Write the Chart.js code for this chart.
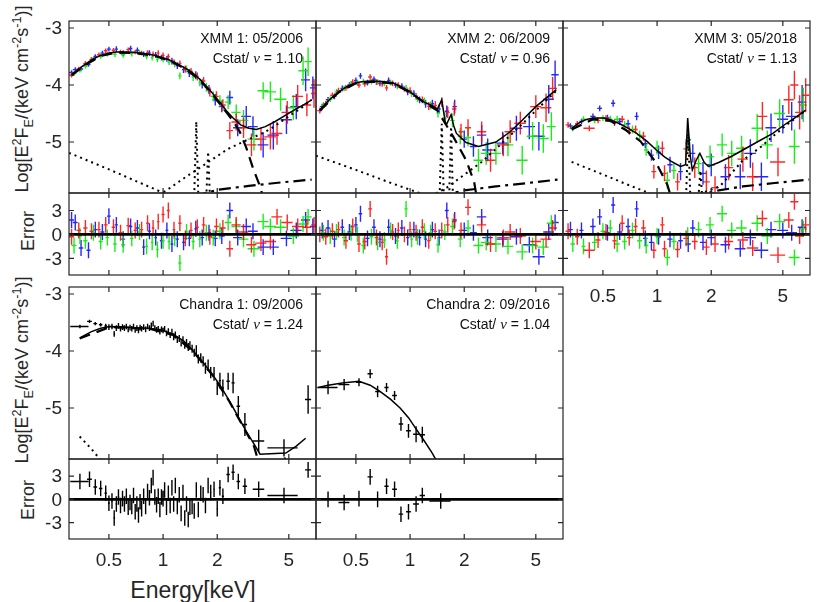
<!DOCTYPE html>
<html>
<head>
<meta charset="utf-8">
<script src="https://cdn.jsdelivr.net/npm/chart.js@4"></script>
<style>
  body { margin: 0; background: #fff; }
  #wrap { position: relative; width: 831px; height: 602px; font-family: "Liberation Sans", Arial, sans-serif; color: #262626; }
  canvas { position: absolute; }
  .yt { position: absolute; transform: translate(-50%, -50%) rotate(-90deg); white-space: nowrap; font-size: 18px; line-height: 1; }
  .yt sup, .yt sub { font-size: 70%; line-height: 0; }
  .xt { position: absolute; transform: translate(-50%, -50%); white-space: nowrap; font-size: 23px; }
</style>
</head>
<body>
<div id="wrap">
  <div class="yt" style="left:22px;top:99px">Log[E<sup>2</sup>F<sub>E</sub>/(keV cm<sup>-2</sup>s<sup>-1</sup>)]</div>
  <div class="yt" style="left:28px;top:231px">Error</div>
  <div class="yt" style="left:22px;top:370px">Log[E<sup>2</sup>F<sub>E</sub>/(keV cm<sup>-2</sup>s<sup>-1</sup>)]</div>
  <div class="yt" style="left:28px;top:500px">Error</div>
  <div class="xt" style="left:193px;top:590px">Energy[keV]</div>
</div>
<script>
/************************ tick values *********************************/
const energyTicks = [0.5, 1, 2, 5];
const specTicks = [-3, -4, -5];
const resTicks = [-3, 0, 3];

const panelTitles = ["XMM 1: 05/2006", "XMM 2: 06/2009", "XMM 3: 05/2018", "Chandra 1: 09/2006", "Chandra 2: 09/2016"];
const panelCstat = ["1.10", "0.96", "1.13", "1.24", "1.04"];

/************************ data points: [E, dE, logE2F, dlog, residual] *********************************/
const xmm1Red = [
  [0.31,0.01,-3.83,0.04,-0.3],[0.34,0.01,-3.72,0.04,0.5],[0.37,0.01,-3.62,0.04,0.8],[0.40,0.01,-3.55,0.04,0.4],
  [0.44,0.01,-3.47,0.04,0.6],[0.48,0.012,-3.40,0.04,1.2],[0.53,0.012,-3.39,0.04,0.9],[0.58,0.015,-3.42,0.04,0.2],
  [0.64,0.015,-3.38,0.04,1.1],[0.70,0.015,-3.42,0.04,0.5],[0.76,0.015,-3.44,0.04,0.6],[0.82,0.015,-3.43,0.04,1.4],
  [0.88,0.015,-3.46,0.05,0.8],[0.94,0.015,-3.44,0.05,1.6],[1.00,0.02,-3.48,0.05,2.5],[1.07,0.02,-3.50,0.05,3.0],
  [1.15,0.02,-3.60,0.05,0.6],[1.24,0.025,-3.62,0.05,1.4],[1.33,0.025,-3.72,0.06,-0.5],[1.43,0.03,-3.76,0.06,0.5],
  [1.55,0.03,-3.85,0.07,0.9],[1.68,0.04,-3.93,0.07,1.2],[1.82,0.05,-4.12,0.08,-0.3],[1.98,0.06,-4.20,0.09,1.0],
  [2.15,0.08,-4.35,0.10,0.8],[2.35,0.1,-4.80,0.15,-1.8],[2.55,0.15,-4.65,0.15,1.2],[2.8,0.18,-4.75,0.18,0.3],
  [3.1,0.2,-5.05,0.2,-1.3],[3.5,0.25,-4.95,0.2,-1.1],[3.95,0.3,-4.91,0.22,-0.9],[4.3,0.3,-4.85,0.2,2.2],
  [4.9,0.35,-4.48,0.2,1.5],[5.6,0.4,-4.20,0.2,1.0],[6.3,0.35,-4.35,0.2,0.9],[6.9,0.25,-4.15,0.25,1.2]
];
const xmm1Blue = [
  [0.31,0.01,-3.78,0.04,1.8],[0.325,0.01,-3.73,0.04,1.5],[0.35,0.01,-3.72,0.04,-1.7],[0.385,0.01,-3.64,0.04,-2.0],
  [0.42,0.01,-3.50,0.04,0.6],[0.46,0.012,-3.44,0.04,0.3],[0.50,0.012,-3.37,0.04,2.3],[0.55,0.012,-3.37,0.05,1.2],
  [0.60,0.015,-3.44,0.05,-0.6],[0.66,0.015,-3.36,0.05,1.0],[0.72,0.015,-3.39,0.05,0.8],[0.78,0.015,-3.46,0.05,-1.6],
  [0.84,0.015,-3.44,0.05,0.4],[0.91,0.015,-3.47,0.05,-0.4],[0.98,0.02,-3.52,0.05,-0.8],[1.05,0.02,-3.54,0.05,0.5],
  [1.12,0.02,-3.58,0.06,-1.2],[1.20,0.025,-3.66,0.06,-0.6],[1.30,0.025,-3.73,0.06,-1.0],[1.40,0.03,-3.79,0.07,-0.5],
  [1.52,0.03,-3.83,0.07,0.7],[1.65,0.04,-3.98,0.08,-0.4],[1.80,0.05,-4.08,0.08,0.2],[1.95,0.06,-4.26,0.1,-0.5],
  [2.12,0.08,-4.38,0.1,-0.2],[2.35,0.1,-4.22,0.12,3.0],[2.6,0.15,-4.75,0.15,-0.4],[2.9,0.18,-4.55,0.18,1.0],
  [3.16,0.2,-4.73,0.18,0.4],[3.6,0.25,-5.05,0.22,-1.6],[4.1,0.3,-4.88,0.25,-1.6],[4.85,0.35,-4.61,0.25,-0.5],
  [5.5,0.4,-4.38,0.22,0.5],[6.2,0.35,-3.91,0.2,1.8],[6.8,0.25,-4.05,0.2,1.0]
];
const xmm1Green = [
  [0.32,0.01,-3.80,0.04,-1.4],[0.345,0.01,-3.74,0.04,-0.2],[0.37,0.01,-3.67,0.04,-0.8],[0.41,0.01,-3.55,0.04,0.2],
  [0.45,0.012,-3.50,0.04,-0.9],[0.49,0.012,-3.46,0.04,-0.4],[0.54,0.012,-3.46,0.05,-1.2],[0.60,0.015,-3.47,0.05,-1.3],
  [0.67,0.015,-3.45,0.05,-0.5],[0.74,0.015,-3.43,0.05,0.3],[0.81,0.015,-3.50,0.05,-1.5],[0.87,0.015,-3.52,0.05,-1.0],
  [0.93,0.015,-3.55,0.05,-1.9],[1.00,0.02,-3.55,0.05,-0.8],[1.08,0.02,-3.60,0.05,-0.9],[1.16,0.02,-3.63,0.06,-0.5],
  [1.24,0.025,-3.84,0.06,-3.6],[1.35,0.025,-3.72,0.06,0.3],[1.47,0.03,-3.86,0.07,-0.9],[1.6,0.03,-3.95,0.07,-0.6],
  [1.74,0.04,-4.04,0.08,0.2],[1.90,0.06,-4.20,0.09,-0.4],[2.07,0.08,-4.28,0.1,0.4],[2.3,0.1,-4.30,0.12,1.5],
  [2.55,0.15,-4.48,0.14,1.0],[2.8,0.18,-4.62,0.18,-0.6],[3.2,0.25,-4.95,0.2,-1.8],[3.6,0.25,-4.10,0.15,1.6],
  [3.95,0.3,-4.12,0.18,1.0],[4.5,0.35,-4.25,0.2,0.9],[5.3,0.4,-4.40,0.22,-0.2],[6.0,0.35,-3.75,0.25,1.3],
  [6.4,0.3,-3.59,0.25,2.2]
];

const xmm2Red = [
  [0.315,0.01,-4.45,0.05,0.0],[0.34,0.01,-4.33,0.05,-0.3],[0.37,0.01,-4.18,0.05,0.4],[0.40,0.01,-4.10,0.05,0.6],
  [0.44,0.012,-4.05,0.05,-0.8],[0.48,0.012,-3.95,0.05,1.0],[0.52,0.012,-4.00,0.05,-1.2],[0.56,0.015,-3.98,0.05,-0.9],
  [0.60,0.015,-3.86,0.05,3.2],[0.65,0.015,-3.95,0.05,-0.4],[0.70,0.015,-3.98,0.05,-1.0],[0.74,0.015,-4.05,0.05,-2.8],
  [0.80,0.015,-3.97,0.05,0.3],[0.86,0.015,-4.00,0.05,0.5],[0.93,0.02,-4.07,0.05,0.0],[1.00,0.02,-4.10,0.06,0.6],
  [1.08,0.02,-4.20,0.06,0.2],[1.17,0.025,-4.26,0.06,0.9],[1.27,0.025,-4.37,0.07,-0.8],[1.38,0.03,-4.36,0.08,0.4],
  [1.5,0.03,-4.30,0.08,0.5],[1.62,0.04,-4.48,0.1,1.2],[1.76,0.05,-4.42,0.12,1.6],[1.92,0.06,-4.82,0.14,0.5],
  [2.1,0.08,-4.75,0.15,3.4],[2.5,0.15,-4.82,0.18,1.2],[2.8,0.18,-5.32,0.2,-1.2],[3.3,0.25,-5.05,0.2,-0.4],
  [3.6,0.25,-4.82,0.2,0.3],[4.1,0.3,-4.67,0.2,-0.2],[5.0,0.35,-4.38,0.2,-0.9],[5.7,0.4,-4.40,0.25,-0.6],
  [6.2,0.35,-4.06,0.2,0.8]
];
const xmm2Blue = [
  [0.325,0.01,-4.38,0.05,0.5],[0.35,0.01,-4.26,0.05,0.8],[0.38,0.01,-4.20,0.05,-0.6],[0.42,0.01,-4.06,0.05,0.9],
  [0.46,0.012,-4.00,0.05,0.3],[0.50,0.012,-3.92,0.05,1.2],[0.53,0.012,-3.84,0.05,2.6],[0.58,0.015,-3.96,0.05,-0.5],
  [0.63,0.015,-3.90,0.05,0.9],[0.68,0.015,-3.97,0.05,-0.6],[0.76,0.015,-3.92,0.05,0.9],[0.83,0.015,-4.00,0.05,-0.2],
  [0.90,0.02,-4.02,0.05,0.8],[0.97,0.02,-4.12,0.06,-0.4],[1.05,0.02,-4.15,0.06,0.6],[1.13,0.025,-4.26,0.06,-0.4],
  [1.22,0.025,-4.33,0.07,-0.6],[1.33,0.03,-4.33,0.07,0.6],[1.45,0.03,-4.42,0.08,-0.4],[1.60,0.04,-4.46,0.1,3.0],
  [1.77,0.05,-4.38,0.12,1.8],[2.0,0.07,-4.95,0.15,0.5],[2.25,0.1,-5.08,0.18,0.2],[2.5,0.15,-4.88,0.18,2.2],
  [2.7,0.18,-5.14,0.2,-0.4],[3.27,0.25,-5.02,0.2,-0.6],[3.9,0.3,-4.76,0.22,-0.3],[4.6,0.35,-4.73,0.22,-1.3],
  [5.2,0.4,-4.90,0.25,-2.8],[5.9,0.4,-4.25,0.25,0.3],[6.4,0.3,-3.82,0.25,1.5]
];
const xmm2Green = [
  [0.33,0.01,-4.35,0.05,0.2],[0.36,0.01,-4.25,0.05,-0.2],[0.39,0.01,-4.12,0.05,0.3],[0.43,0.012,-4.06,0.05,-0.4],
  [0.47,0.012,-3.98,0.05,0.2],[0.51,0.012,-3.96,0.05,0.0],[0.55,0.015,-3.94,0.05,-1.4],[0.61,0.015,-3.94,0.05,-0.3],
  [0.66,0.015,-3.95,0.05,-1.0],[0.72,0.015,-3.97,0.05,-0.7],[0.78,0.015,-3.96,0.05,0.5],[0.85,0.015,-4.02,0.05,-0.8],
  [0.95,0.02,-4.05,0.05,3.2],[1.02,0.02,-4.15,0.06,-0.6],[1.10,0.02,-4.24,0.06,-0.3],[1.20,0.025,-4.28,0.06,0.4],
  [1.30,0.03,-4.36,0.07,0.2],[1.43,0.03,-4.49,0.08,-1.3],[1.56,0.04,-4.58,0.1,0.3],[1.72,0.05,-4.62,0.12,1.0],
  [1.9,0.06,-4.90,0.14,-0.6],[2.1,0.08,-4.92,0.16,0.8],[2.4,0.15,-5.32,0.2,-1.4],[2.65,0.18,-5.20,0.2,-1.0],
  [3.0,0.2,-5.20,0.2,-1.2],[3.5,0.25,-5.05,0.2,-1.5],[4.2,0.3,-5.32,0.25,-2.2],[4.8,0.35,-4.90,0.25,-1.4],
  [5.5,0.4,-4.94,0.25,-1.6],[6.1,0.35,-4.73,0.25,1.4]
];

const xmm3Red = [
  [0.32,0.01,-4.70,0.05,0.4],[0.36,0.01,-4.68,0.05,-0.3],[0.42,0.03,-4.76,0.05,-2.0],[0.47,0.015,-4.62,0.05,-0.7],
  [0.52,0.015,-4.58,0.05,0.3],[0.58,0.015,-4.66,0.06,-0.8],[0.64,0.02,-4.60,0.06,1.4],[0.70,0.02,-4.80,0.07,-0.4],
  [0.76,0.02,-4.78,0.07,1.0],[0.84,0.025,-4.90,0.08,0.8],[0.96,0.03,-5.52,0.12,-2.0],[1.07,0.03,-5.11,0.12,1.2],
  [1.10,0.03,-5.55,0.14,-1.8],[1.30,0.04,-5.70,0.15,-1.9],[1.45,0.05,-5.12,0.15,-0.5],[1.62,0.06,-5.45,0.18,-0.9],
  [1.88,0.08,-5.70,0.2,-1.6],[2.1,0.1,-5.80,0.2,-1.2],[2.5,0.15,-5.45,0.22,-0.9],[3.0,0.2,-5.30,0.22,-0.7],
  [3.4,0.25,-5.61,0.25,-1.7],[3.85,0.25,-4.55,0.25,2.0],[4.7,0.45,-5.35,0.25,-2.6],[5.4,0.35,-4.26,0.25,1.8],
  [5.8,0.3,-4.00,0.25,4.1],[6.2,0.35,-4.48,0.3,-0.2],[6.7,0.3,-4.18,0.3,1.2]
];
const xmm3Blue = [
  [0.33,0.01,-4.72,0.05,0.6],[0.38,0.01,-4.64,0.05,0.5],[0.44,0.015,-4.55,0.05,1.0],[0.48,0.015,-4.41,0.05,2.2],
  [0.53,0.015,-4.58,0.06,0.2],[0.57,0.015,-4.32,0.06,3.7],[0.62,0.02,-4.64,0.06,0.3],[0.69,0.02,-4.68,0.07,1.0],
  [0.77,0.02,-4.55,0.07,3.2],[0.86,0.025,-5.03,0.08,-0.5],[0.93,0.03,-5.23,0.1,-1.0],[1.02,0.03,-5.18,0.12,-0.3],
  [1.18,0.04,-5.40,0.14,-0.6],[1.35,0.04,-5.52,0.15,-0.8],[1.49,0.05,-4.96,0.15,-1.2],[1.58,0.05,-5.20,0.16,0.8],
  [1.80,0.07,-5.55,0.2,-1.0],[2.0,0.1,-5.40,0.2,-0.4],[2.4,0.15,-5.61,0.22,-1.3],[2.9,0.2,-5.61,0.22,-1.8],
  [3.3,0.25,-5.20,0.25,-0.4],[3.8,0.35,-5.61,0.25,-2.0],[4.3,0.3,-4.75,0.25,0.6],[5.0,0.35,-4.60,0.25,0.5],
  [5.6,0.4,-4.55,0.25,0.2],[6.4,0.35,-4.30,0.3,0.9]
];
const xmm3Green = [
  [0.34,0.01,-4.76,0.05,-1.2],[0.39,0.01,-4.60,0.05,-1.5],[0.45,0.015,-4.62,0.05,-1.0],[0.50,0.015,-4.58,0.05,0.4],
  [0.55,0.015,-4.60,0.06,0.8],[0.60,0.02,-4.60,0.06,-1.2],[0.66,0.02,-4.70,0.07,-0.9],[0.73,0.02,-4.78,0.07,0.5],
  [0.80,0.025,-4.88,0.08,-0.8],[0.87,0.025,-5.14,0.1,-1.4],[1.0,0.03,-5.10,0.12,-0.2],[1.14,0.04,-5.67,0.15,-2.9],
  [1.24,0.04,-5.50,0.15,-0.9],[1.48,0.05,-5.02,0.15,-0.1],[1.7,0.07,-5.38,0.18,0.6],[1.97,0.1,-5.26,0.2,1.2],
  [2.3,0.15,-5.05,0.2,2.6],[2.6,0.15,-5.20,0.22,0.5],[2.95,0.2,-5.11,0.22,0.8],[3.6,0.25,-4.76,0.25,1.4],
  [4.1,0.3,-5.05,0.25,-0.2],[4.8,0.35,-4.50,0.25,1.6],[5.8,0.4,-5.08,0.3,-2.9],[6.5,0.3,-4.35,0.3,0.7]
];

const chandra1Data = [
  [0.345,0.04,-3.57,0.03,2.3],[0.39,0.012,-3.48,0.03,2.6],[0.42,0.01,-3.52,0.03,1.6],[0.45,0.01,-3.54,0.03,1.4],
  [0.48,0.008,-3.56,0.04,0.8],[0.50,0.006,-3.58,0.05,-0.5],[0.52,0.006,-3.57,0.05,-0.2],[0.535,0.006,-3.70,0.05,-2.4],
  [0.55,0.006,-3.60,0.05,-0.6],[0.565,0.006,-3.56,0.05,0.3],[0.58,0.006,-3.61,0.05,-0.8],[0.595,0.006,-3.58,0.05,0.1],
  [0.61,0.006,-3.60,0.05,-0.6],[0.625,0.006,-3.57,0.05,0.4],[0.64,0.006,-3.62,0.05,-1.0],[0.655,0.006,-3.59,0.05,-0.4],
  [0.67,0.006,-3.61,0.05,-0.9],[0.685,0.006,-3.57,0.05,0.5],[0.70,0.006,-3.63,0.05,-1.6],[0.715,0.006,-3.60,0.05,-0.6],
  [0.73,0.006,-3.64,0.05,-2.0],[0.745,0.006,-3.59,0.05,-0.3],[0.76,0.006,-3.61,0.05,-1.2],[0.78,0.006,-3.58,0.05,0.4],
  [0.80,0.006,-3.62,0.05,-0.9],[0.82,0.006,-3.57,0.05,1.0],[0.84,0.006,-3.60,0.05,0.2],[0.86,0.006,-3.55,0.05,1.8],
  [0.88,0.006,-3.52,0.05,2.8],[0.90,0.006,-3.60,0.05,0.3],[0.92,0.006,-3.63,0.05,-0.7],[0.94,0.006,-3.61,0.05,0.4],
  [0.96,0.006,-3.66,0.05,-1.3],[0.98,0.006,-3.62,0.05,0.3],[1.00,0.007,-3.64,0.05,0.1],[1.02,0.007,-3.61,0.05,1.2],
  [1.045,0.007,-3.69,0.05,-1.0],[1.07,0.007,-3.65,0.05,0.8],[1.095,0.007,-3.72,0.05,-0.8],[1.12,0.007,-3.67,0.06,1.5],
  [1.145,0.007,-3.75,0.06,-0.6],[1.17,0.008,-3.72,0.06,1.8],[1.20,0.008,-3.80,0.06,-0.9],[1.23,0.008,-3.78,0.06,0.6],
  [1.26,0.008,-3.86,0.06,-1.8],[1.29,0.008,-3.80,0.06,0.9],[1.32,0.009,-3.90,0.06,-2.4],[1.35,0.009,-3.86,0.07,-0.6],
  [1.38,0.009,-3.93,0.07,-2.6],[1.41,0.01,-3.90,0.07,-1.0],[1.45,0.01,-3.96,0.07,-0.9],[1.49,0.01,-4.03,0.07,-1.5],
  [1.53,0.012,-3.98,0.08,1.2],[1.57,0.012,-4.14,0.08,-1.3],[1.62,0.012,-4.12,0.08,0.8],[1.67,0.015,-4.18,0.09,0.6],
  [1.72,0.015,-4.30,0.1,-0.8],[1.78,0.015,-4.25,0.1,1.8],[1.84,0.02,-4.38,0.1,0.9],[1.92,0.02,-4.40,0.12,1.3],
  [2.00,0.02,-4.65,0.12,-1.2],[2.07,0.03,-4.52,0.14,1.5],[2.15,0.03,-4.65,0.15,0.4],[2.30,0.05,-4.53,0.15,3.2],
  [2.45,0.05,-4.56,0.18,3.5],[2.62,0.06,-4.97,0.18,2.3],[2.85,0.08,-5.29,0.2,1.7],[3.4,0.25,-5.58,0.2,1.3],
  [4.7,0.9,-5.70,0.15,0.5],[6.4,0.25,-4.85,0.25,3.8]
];
const chandra2Data = [
  [0.35,0.045,-4.64,0.12,0.0],[0.43,0.03,-4.59,0.1,-0.4],[0.52,0.02,-4.55,0.07,0.1],[0.60,0.02,-4.40,0.08,2.9],
  [0.66,0.02,-4.71,0.1,0.0],[0.74,0.02,-4.64,0.08,1.7],[0.82,0.025,-4.78,0.08,1.3],[0.89,0.025,-5.28,0.12,-1.9],
  [0.98,0.03,-5.40,0.12,-1.6],[1.08,0.04,-5.46,0.14,-0.6],[1.17,0.04,-5.47,0.14,0.5],[1.48,0.2,-6.05,0.15,-0.2]
];

/************************ model components: [E, logE2F] *********************************/
const xmm1Total = [[0.31,-3.82],[0.33,-3.75],[0.36,-3.66],[0.40,-3.56],[0.45,-3.48],[0.50,-3.44],[0.55,-3.42],[0.62,-3.42],[0.70,-3.43],[0.80,-3.45],[0.90,-3.48],[1.00,-3.52],[1.10,-3.57],[1.20,-3.63],[1.32,-3.70],[1.45,-3.78],[1.60,-3.90],[1.75,-4.03],[1.90,-4.16],[2.05,-4.29],[2.25,-4.45],[2.45,-4.58],[2.70,-4.70],[3.00,-4.76],[3.30,-4.78],[3.70,-4.73],[4.20,-4.64],[4.80,-4.53],[5.50,-4.42],[6.10,-4.34],[6.70,-4.26]];
const xmm1Thermal = [[0.31,-3.83],[0.36,-3.67],[0.45,-3.49],[0.55,-3.43],[0.70,-3.44],[0.90,-3.49],[1.10,-3.58],[1.32,-3.71],[1.60,-3.91],[1.90,-4.18],[2.25,-4.48],[2.45,-4.63],[2.67,-4.82],[2.90,-5.10],[3.17,-5.47],[3.47,-5.79],[3.60,-5.98]];
const xmm1Soft = [[0.30,-5.19],[0.50,-5.48],[0.70,-5.68],[1.00,-5.89],[1.10,-5.95]];
const xmm1Hard = [[0.95,-5.95],[1.00,-5.89],[1.30,-5.64],[1.75,-5.37],[2.30,-5.12],[3.00,-4.95],[3.50,-4.86],[4.00,-4.76],[5.00,-4.55],[6.00,-4.38],[6.70,-4.26]];
const xmm1Lines = [[1.49,-5.95],[1.53,-4.64],[1.57,-5.95],[1.74,-5.95],[1.78,-5.17],[1.82,-5.95]];
const xmm1Tail = [[1.50,-5.95],[2.00,-5.84],[3.00,-5.77],[4.50,-5.71],[6.70,-5.66]];

const xmm2Total = [[0.315,-4.44],[0.35,-4.28],[0.40,-4.12],[0.45,-4.02],[0.50,-3.96],[0.55,-3.94],[0.62,-3.93],[0.70,-3.94],[0.80,-3.96],[0.90,-4.04],[1.00,-4.12],[1.10,-4.22],[1.20,-4.30],[1.32,-4.36],[1.42,-4.42],[1.50,-4.26],[1.57,-4.66],[1.60,-4.68],[1.69,-4.52],[1.75,-4.72],[1.81,-4.85],[2.05,-5.01],[2.40,-5.08],[3.00,-5.00],[3.60,-4.82],[4.20,-4.62],[5.00,-4.38],[6.50,-4.08]];
const xmm2Thermal = [[0.315,-4.45],[0.40,-4.13],[0.50,-3.97],[0.62,-3.94],[0.80,-3.97],[1.00,-4.13],[1.20,-4.31],[1.42,-4.45],[1.60,-4.72],[1.74,-4.91],[2.05,-5.32],[2.27,-5.70],[2.35,-5.98]];
const xmm2Soft = [[0.30,-5.24],[0.50,-5.49],[0.80,-5.73],[1.14,-5.90],[1.20,-5.95]];
const xmm2Hard = [[1.30,-5.95],[1.60,-5.80],[2.05,-5.55],[2.50,-5.35],[3.00,-5.12],[4.00,-4.75],[5.00,-4.45],[6.50,-4.10]];
const xmm2Lines = [[1.46,-5.95],[1.50,-4.68],[1.54,-5.95],[1.65,-5.95],[1.69,-4.73],[1.73,-5.95]];
const xmm2Tail = [[1.45,-5.95],[2.00,-5.85],[3.00,-5.78],[4.50,-5.72],[6.60,-5.66]];

const xmm3Total = [[0.335,-4.76],[0.37,-4.66],[0.40,-4.61],[0.44,-4.58],[0.50,-4.58],[0.55,-4.61],[0.62,-4.68],[0.70,-4.77],[0.77,-4.85],[0.88,-4.99],[0.99,-5.14],[1.10,-5.26],[1.20,-5.34],[1.35,-5.43],[1.44,-5.40],[1.48,-4.58],[1.53,-5.25],[1.57,-5.49],[1.65,-5.32],[1.73,-5.20],[1.83,-5.36],[1.93,-5.43],[2.20,-5.36],[2.60,-5.25],[3.00,-5.14],[3.60,-5.00],[4.40,-4.85],[5.20,-4.68],[6.00,-4.55],[6.70,-4.44]];
const xmm3Thermal = [[0.335,-4.78],[0.44,-4.60],[0.55,-4.63],[0.67,-4.79],[0.81,-4.99],[0.99,-5.37],[1.14,-5.75],[1.20,-5.98]];
const xmm3Soft = [[0.335,-5.35],[0.50,-5.57],[0.70,-5.76],[0.91,-5.90],[0.95,-5.95]];
const xmm3Hard = [[1.60,-5.95],[2.23,-5.78],[3.00,-5.32],[3.80,-5.08],[4.40,-4.90],[5.50,-4.65],[6.70,-4.45]];
const xmm3Lines = [[1.45,-5.95],[1.49,-4.85],[1.53,-5.95],[1.70,-5.95],[1.74,-5.50],[1.78,-5.95]];
const xmm3Tail = [[1.58,-5.95],[2.20,-5.85],[3.00,-5.78],[4.50,-5.72],[7.00,-5.66]];

const chandra1Total = [[0.344,-3.77],[0.40,-3.66],[0.45,-3.60],[0.507,-3.57],[0.60,-3.58],[0.70,-3.59],[0.84,-3.60],[1.00,-3.64],[1.14,-3.71],[1.30,-3.82],[1.47,-4.00],[1.65,-4.18],[1.88,-4.41],[2.10,-4.63],[2.34,-4.88],[2.60,-5.14],[2.90,-5.41],[3.20,-5.63],[3.46,-5.81],[4.20,-5.80],[4.81,-5.79],[5.50,-5.67],[6.20,-5.53]];
const chandra1Thermal = [[0.344,-3.78],[0.507,-3.58],[0.84,-3.61],[1.14,-3.72],[1.47,-4.01],[1.88,-4.42],[2.34,-4.89],[2.90,-5.43],[3.20,-5.67],[3.40,-5.95]];
const chandra1Soft = [[0.344,-5.50],[0.40,-5.72],[0.46,-5.95]];
const chandra1Hard = [[4.40,-5.95],[5.00,-5.84]];

const chandra2Total = [[0.309,-4.64],[0.35,-4.60],[0.42,-4.56],[0.52,-4.53],[0.60,-4.60],[0.68,-4.71],[0.78,-4.85],[0.88,-5.00],[0.98,-5.17],[1.07,-5.35],[1.20,-5.58],[1.32,-5.78],[1.40,-5.92]];

const zeroLine = [[0.3, 0], [7.08, 0]];

/************************ styles *********************************/
const RED = "rgba(255,0,0,0.85)", BLUE = "rgba(0,0,255,0.85)", GREEN = "rgba(0,235,0,0.9)", BLACK = "#000";
const STYLES = {
  solid: { borderWidth: 1.5 },
  dash: { borderWidth: 2.2, borderDash: [11, 7] },
  dot: { borderWidth: 2, borderDash: [2, 4] },
  dashdot: { borderWidth: 2.2, borderDash: [12, 5, 3, 5] },
  zero: { borderWidth: 2.6 }
};
const FONT = '"Liberation Sans", Arial, sans-serif';
const AXIS = "#262626";

// error bar crosses as one broken line per series
function bars(rows, col, resid) {
  const pts = [];
  rows.forEach(([e, de, f, df, r]) => {
    const y = resid ? r : f, dy = resid ? 1 : df;
    pts.push({ x: e - de, y }, { x: e + de, y }, { x: e, y: null },
             { x: e, y: y - dy }, { x: e, y: y + dy }, { x: e, y: null });
  });
  return { data: pts, borderColor: col, borderWidth: 1.4, order: 2 };
}
function curve(rows, style) {
  return Object.assign({ data: rows.map(([x, y]) => ({ x, y })), borderColor: BLACK, order: 1 }, STYLES[style]);
}

// frame, inward ticks, tick labels and panel notes
const framePlugin = {
  id: "frame",
  afterDraw(chart, args, o) {
    const { ctx, chartArea: a } = chart;
    const x = chart.scales.x, y = chart.scales.y;
    ctx.save();
    ctx.strokeStyle = AXIS;
    ctx.lineWidth = 1.2;
    ctx.strokeRect(a.left, a.top, a.right - a.left, a.bottom - a.top);
    ctx.beginPath();
    energyTicks.forEach(t => {
      const px = x.getPixelForValue(t);
      ctx.moveTo(px, a.top); ctx.lineTo(px, a.top + 5);
      ctx.moveTo(px, a.bottom); ctx.lineTo(px, a.bottom - 5);
    });
    o.yTicks.forEach(t => {
      const py = y.getPixelForValue(t);
      ctx.moveTo(a.left, py); ctx.lineTo(a.left + 5, py);
      ctx.moveTo(a.right, py); ctx.lineTo(a.right - 5, py);
    });
    ctx.stroke();
    ctx.fillStyle = AXIS;
    ctx.font = "19px " + FONT;
    ctx.textBaseline = "middle";
    if (o.yLabels) {
      ctx.textAlign = "right";
      o.yTicks.forEach(t => ctx.fillText(String(t), a.left - 7, y.getPixelForValue(t) + 1));
    }
    if (o.xLabels) {
      ctx.textAlign = "center";
      energyTicks.forEach(t => ctx.fillText(String(t), x.getPixelForValue(t), a.bottom + 22));
    }
    if (o.note >= 0) {
      const right = a.right - 13, f1 = "14px " + FONT;
      ctx.fillStyle = "#111";
      ctx.font = f1;
      ctx.textAlign = "right";
      ctx.fillText(panelTitles[o.note], right, a.top + 18);
      const parts = [["Cstat/ ", f1], ["\u03bd", 'italic 15px "Liberation Serif", serif'], [" = " + panelCstat[o.note], f1]];
      let w = 0;
      parts.forEach(p => { ctx.font = p[1]; w += ctx.measureText(p[0]).width; });
      let xx = right - w;
      ctx.textAlign = "left";
      parts.forEach(p => { ctx.font = p[1]; ctx.fillText(p[0], xx, a.top + 38); xx += ctx.measureText(p[0]).width; });
    }
    ctx.restore();
  }
};

const wrap = document.getElementById("wrap");
function makeChart(x0, x1, y0, y1, padL, padB, yMin, yMax, yTicks, datasets, frame) {
  const cv = document.createElement("canvas");
  const w = x1 - x0 + padL + 4, h = y1 - y0 + padB + 4;
  cv.width = w; cv.height = h;
  cv.style.left = (x0 - padL) + "px";
  cv.style.top = (y0 - 4) + "px";
  cv.style.width = w + "px"; cv.style.height = h + "px";
  wrap.appendChild(cv);
  return new Chart(cv.getContext("2d"), {
    type: "line",
    data: { datasets },
    options: {
      responsive: false,
      animation: false,
      events: [],
      devicePixelRatio: 1,
      layout: { padding: { left: padL, right: 4, top: 4, bottom: padB } },
      elements: { point: { radius: 0 }, line: { tension: 0 } },
      plugins: { legend: { display: false }, tooltip: { enabled: false }, frame: Object.assign({ yTicks }, frame) },
      scales: {
        x: { type: "logarithmic", min: 0.3, max: 7.08, display: false },
        y: { type: "linear", min: yMin, max: yMax, display: false }
      }
    },
    plugins: [framePlugin]
  });
}

/************************ panels *********************************/
const COLS = [[69, 316], [316, 563], [563, 810]];
const SPEC = [-5.895, -2.877], RES = [-5.1, 5.2];

const xmmSets = [
  { d: [xmm1Red, xmm1Green, xmm1Blue], m: [xmm1Total, xmm1Thermal, xmm1Soft, xmm1Hard, xmm1Lines, xmm1Tail] },
  { d: [xmm2Red, xmm2Green, xmm2Blue], m: [xmm2Total, xmm2Thermal, xmm2Soft, xmm2Hard, xmm2Lines, xmm2Tail] },
  { d: [xmm3Red, xmm3Green, xmm3Blue], m: [xmm3Total, xmm3Thermal, xmm3Soft, xmm3Hard, xmm3Lines, xmm3Tail] }
];
const modelStyles = ["solid", "dash", "dot", "dot", "dot", "dashdot"];
const dataColors = [RED, GREEN, BLUE];

xmmSets.forEach((p, i) => {
  const [x0, x1] = COLS[i];
  const padL = i === 0 ? 60 : 4;
  const spec = p.m.map((m, k) => curve(m, modelStyles[k]))
    .concat(p.d.map((d, k) => bars(d, dataColors[k], false)));
  makeChart(x0, x1, 21, 193, padL, 4, SPEC[0], SPEC[1], specTicks, spec, { yLabels: i === 0, note: i });
  const res = [curve(zeroLine, "zero")].concat(p.d.map((d, k) => bars(d, dataColors[k], true)));
  makeChart(x0, x1, 193, 275, padL, i === 2 ? 36 : 4, RES[0], RES[1], resTicks, res, { yLabels: i === 0, xLabels: i === 2, note: -1 });
});

// Chandra 1
makeChart(69, 316, 287, 459, 60, 4, SPEC[0], SPEC[1], specTicks,
  [curve(chandra1Total, "solid"), curve(chandra1Thermal, "dash"), curve(chandra1Soft, "dot"), curve(chandra1Hard, "dot"),
   bars(chandra1Data, BLACK, false)], { yLabels: true, note: 3 });
makeChart(69, 316, 459, 539, 60, 36, RES[0], RES[1], resTicks,
  [curve(zeroLine, "zero"), bars(chandra1Data, BLACK, true)], { yLabels: true, xLabels: true, note: -1 });

// Chandra 2
makeChart(316, 563, 287, 459, 4, 4, SPEC[0], SPEC[1], specTicks,
  [curve(chandra2Total, "solid"), bars(chandra2Data, BLACK, false)], { note: 4 });
makeChart(316, 563, 459, 539, 4, 36, RES[0], RES[1], resTicks,
  [curve(zeroLine, "zero"), bars(chandra2Data, BLACK, true)], { xLabels: true, note: -1 });
</script>
</body>
</html>
